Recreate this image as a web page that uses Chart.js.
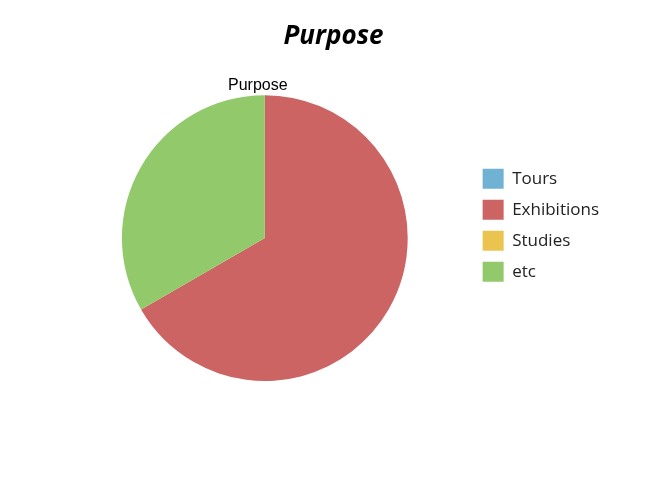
<!DOCTYPE html>
<html>
<head>
<meta charset="utf-8">
<script src="https://cdn.jsdelivr.net/npm/chart.js@4"></script>
<style>
  body { margin: 0; background: #fff; }
  #wrap { width: 650px; height: 480px; }
</style>
</head>
<body>
<div id="wrap"><canvas id="pieChart" width="650" height="480"></canvas></div>
<script>
// 차트 데이터
const chartTitle = "Purpose";
const seriesName = "Purpose";
const categories = ["Tours", "Exhibitions", "Studies", "etc"];
const seriesValues = [0, 2, 0, 1];
const sliceColors = ["#6fb2d4", "#cc6464", "#ebc450", "#92c96a"];

// 시리즈 이름을 파이 위에 표시
const seriesLabelPlugin = {
    id: "seriesLabel",
    afterDraw(chart) {
        const arc = chart.getDatasetMeta(0).data[1];
        if (!arc) return;
        const ctx = chart.ctx;
        ctx.save();
        ctx.font = "16px 'Liberation Sans', Arial, sans-serif";
        ctx.fillStyle = "#000";
        ctx.textAlign = "center";
        ctx.textBaseline = "bottom";
        ctx.fillText(chart.data.datasets[0].label, arc.x - 7, arc.y - arc.outerRadius - 2);
        ctx.restore();
    }
};

const ctx = document.getElementById("pieChart").getContext("2d");
const pieChart = new Chart(ctx, {
    type: "pie",
    data: {
        labels: categories,
        datasets: [{
            label: seriesName,
            data: seriesValues,
            backgroundColor: sliceColors,
            borderWidth: 0
        }]
    },
    options: {
        responsive: false,
        animation: false,
        layout: {
            padding: { top: 3, bottom: 99, left: 58, right: 41 }
        },
        plugins: {
            title: {
                display: true,
                text: chartTitle,
                color: "#000",
                font: { family: "'Open Sans', sans-serif", size: 26, weight: "bold", style: "italic" },
                padding: { top: 18, bottom: 43 }
            },
            legend: {
                position: "right",
                // 범례를 아래로 내리기 위한 빈 제목
                title: {
                    display: true,
                    text: " ",
                    font: { size: 12 },
                    padding: 26
                },
                labels: {
                    boxWidth: 21,
                    boxHeight: 20,
                    padding: 11,
                    color: "#222",
                    font: { family: "'Open Sans', sans-serif", size: 17 }
                }
            },
            tooltip: { enabled: false }
        }
    },
    plugins: [seriesLabelPlugin]
});
</script>
</body>
</html>
